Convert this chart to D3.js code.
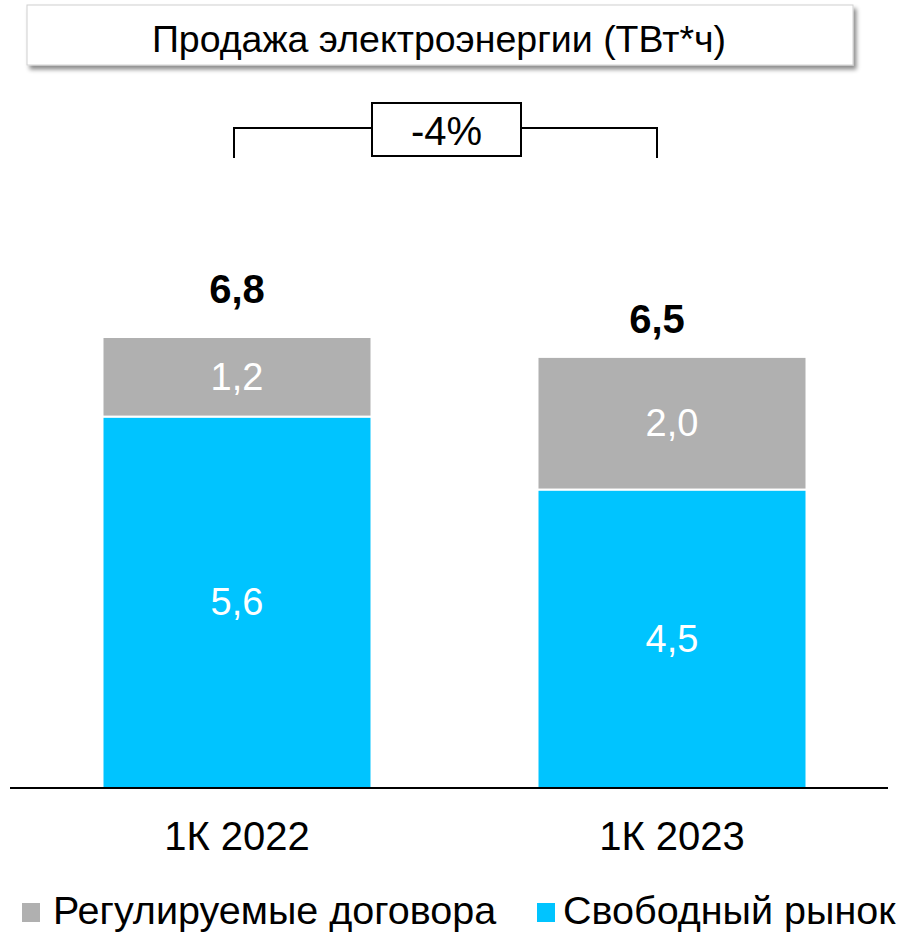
<!DOCTYPE html>
<html>
<head>
<meta charset="utf-8">
<script src="https://cdn.jsdelivr.net/npm/d3@7"></script>
<style>
  html, body { margin: 0; padding: 0; background: #fff; }
  svg { display: block; }
  text { font-family: "Liberation Sans", Arial, sans-serif; }
</style>
</head>
<body>
<svg id="chart" width="920" height="935"></svg>
<script>
const title = "Продажа электроэнергии (ТВт*ч)";
const categories = ["1К 2022", "1К 2023"];
const seriesNames = ["Свободный рынок", "Регулируемые договора"];
const freeMarket = [5.6, 4.5];
const regulated = [1.2, 2.0];
const totals = [6.8, 6.5];
const changeLabel = "-4%";
const legendOrder = ["Регулируемые договора", "Свободный рынок"];
const colors = { "Свободный рынок": "#00C4FF", "Регулируемые договора": "#B0B0B0" };

const fmt = v => d3.format(".1f")(v).replace(".", ",");

const svg = d3.select("#chart");

// drop shadow for title box
const defs = svg.append("defs");
const f = defs.append("filter").attr("id", "shadow").attr("x", "-5%").attr("y", "-20%").attr("width", "115%").attr("height", "160%");
f.append("feDropShadow").attr("dx", 3).attr("dy", 4).attr("stdDeviation", 2.2).attr("flood-color", "#000").attr("flood-opacity", 0.45);

// title box
svg.append("rect").attr("x", 27).attr("y", 5).attr("width", 826).attr("height", 60)
  .attr("fill", "#fff").attr("stroke", "#d0d0d0").attr("stroke-width", 1).attr("filter", "url(#shadow)");
svg.append("text").attr("x", 439).attr("y", 52).attr("text-anchor", "middle")
  .attr("font-size", 37.5).attr("fill", "#000").text(title);

// scales
const x = d3.scaleBand().domain(categories).range([19.5, 889.5]).paddingInner(0.3816).paddingOuter(0.1908);
const y = d3.scaleLinear().domain([0, 6.8]).range([788, 337]);

const stackData = categories.map((c, i) => ({ cat: c, "Свободный рынок": freeMarket[i], "Регулируемые договора": regulated[i] }));
const stack = d3.stack().keys(seriesNames)(stackData);

const g = svg.append("g");
stack.forEach(layer => {
  g.selectAll(null).data(layer).enter().append("rect")
    .attr("x", d => x(d.data.cat))
    .attr("y", d => y(d[1]))
    .attr("width", x.bandwidth())
    .attr("height", d => y(d[0]) - y(d[1]))
    .attr("fill", colors[layer.key])
    .attr("stroke", "#fff").attr("stroke-width", 2);
  g.selectAll(null).data(layer).enter().append("text")
    .attr("x", d => x(d.data.cat) + x.bandwidth() / 2)
    .attr("y", d => (y(d[0]) + y(d[1])) / 2 + 13)
    .attr("text-anchor", "middle").attr("font-size", 38).attr("fill", "#fff")
    .text(d => fmt(d[1] - d[0]));
});

// totals (second label sits slightly left/lower, as in the original layout)
g.selectAll(null).data(categories).enter().append("text")
  .attr("x", (d, i) => x(d) + x.bandwidth() / 2 + (i === 1 ? -15 : 0))
  .attr("y", (d, i) => y(totals[i]) - (i === 1 ? 24 : 34))
  .attr("text-anchor", "middle").attr("font-size", 40).attr("font-weight", "bold").attr("fill", "#000")
  .text((d, i) => fmt(totals[i]));

// axis baseline
svg.append("line").attr("x1", 10).attr("x2", 888).attr("y1", y(0)).attr("y2", y(0))
  .attr("stroke", "#000").attr("stroke-width", 2);

// x axis labels
const xAxis = d3.axisBottom(x).tickSize(0).tickPadding(0);
const ax = svg.append("g").attr("transform", `translate(0,${y(0)})`).call(xAxis);
ax.select(".domain").remove();
ax.selectAll("text").attr("font-size", 40).attr("fill", "#000")
  .attr("font-family", "'Liberation Sans', Arial, sans-serif")
  .attr("dy", null).attr("y", 62);

// change bracket
const cx0 = x(categories[0]) + x.bandwidth() / 2 - 3;
const cx1 = x(categories[1]) + x.bandwidth() / 2 - 15;
const by = 128, bBottom = 158;
const boxL = 372, boxR = 521, boxT = 103, boxB = 156;
const br = svg.append("g").attr("stroke", "#000").attr("stroke-width", 2).attr("fill", "none");
br.append("path").attr("d", `M${cx0},${bBottom}V${by}H${boxL}`);
br.append("path").attr("d", `M${boxR},${by}H${cx1}V${bBottom}`);
br.append("rect").attr("x", boxL).attr("y", boxT).attr("width", boxR - boxL).attr("height", boxB - boxT).attr("fill", "#fff");
svg.append("text").attr("x", (boxL + boxR) / 2).attr("y", 145).attr("text-anchor", "middle")
  .attr("font-family", "Carlito, Calibri, Lato, sans-serif").attr("font-size", 40).attr("fill", "#000").text(changeLabel);

// legend
const legX = [22, 537];
const lg = svg.append("g");
legendOrder.forEach((name, i) => {
  lg.append("rect").attr("x", legX[i]).attr("y", 903).attr("width", 18).attr("height", 19).attr("fill", colors[name]);
  lg.append("text").attr("x", legX[i] + (i === 0 ? 31 : 26)).attr("y", 924).attr("font-size", 39.5).attr("fill", "#000").text(name);
});
</script>
</body>
</html>
